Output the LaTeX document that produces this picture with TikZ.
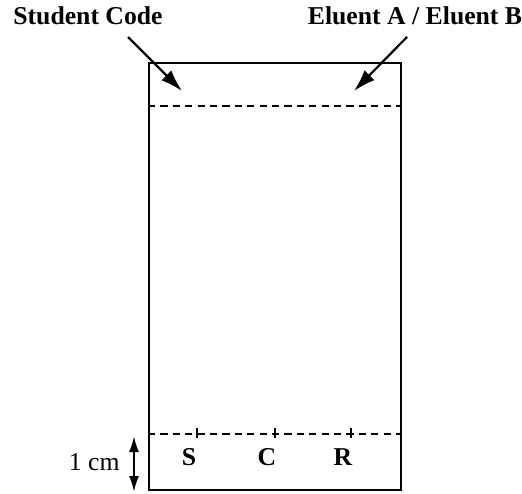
\documentclass[tikz,border=0pt]{standalone}
\usepackage{fontspec}
\setmainfont{Liberation Serif}
\usetikzlibrary{arrows.meta,positioning}
\tikzset{
  bold text/.style  = {font=\bfseries\fontsize{12.85}{15}\selectfont, inner sep=0pt, anchor=base},
  plain text/.style = {font=\fontsize{12.85}{15}\selectfont, inner sep=0pt, anchor=base east},
  plate/.style      = {draw, line width=1.1pt, minimum width=126pt, minimum height=213.5pt,
                       inner sep=0pt},
  front/.style      = {line width=1pt, dash pattern=on 3.6pt off 2.6pt},
  pointer/.style    = {-{Latex[length=11pt,width=7pt]}, line width=1.1pt},
  ruler/.style      = {{Latex[length=8pt,width=5pt]}-{Latex[length=8pt,width=5pt]}, line width=1.1pt},
  tick/.style       = {line width=1pt}
}

\begin{document}
\begin{tikzpicture}[x=0.5pt,y=0.5pt]
\useasboundingbox (0,0) rectangle (522,493);

% the plate
\node[plate] (plate) at (275,216.5) {};

% headings and where they go
\node[bold text] (code)   at (88,468)  {Student Code};
\node[bold text] (eluent) at (415,468) {Eluent A / Eluent B};
\coordinate (code tail)   at (128,456);
\coordinate (code tip)    at (182,402);
\coordinate (eluent tail) at (407,456);
\coordinate (eluent tip)  at (354,402);
\draw[pointer] (code tail) -- (code tip);
\draw[pointer] (eluent tail) -- (eluent tip);

% solvent front and start line
\draw[front] ([yshift=-22pt]plate.north west) -- ([yshift=-22pt]plate.north east);
\draw[front] ([yshift=28.5pt]plate.south west) coordinate (start)
  -- ([yshift=28.5pt]plate.south east);

% spots on the start line
\foreach \pos/\name in {197/S,275/C,351/R} {
  \draw[tick] (\pos,65) -- (\pos,55);
  \node[bold text] (\name) at (\pos-8,28) {\name};
}

% the 1 cm mark
\coordinate (ruler top)    at (134,57);
\coordinate (ruler bottom) at (134,1);
\draw[ruler] (ruler top) -- (ruler bottom);
\node[plain text] (cm) at (120,23) {1 cm};
\end{tikzpicture}
\end{document}
